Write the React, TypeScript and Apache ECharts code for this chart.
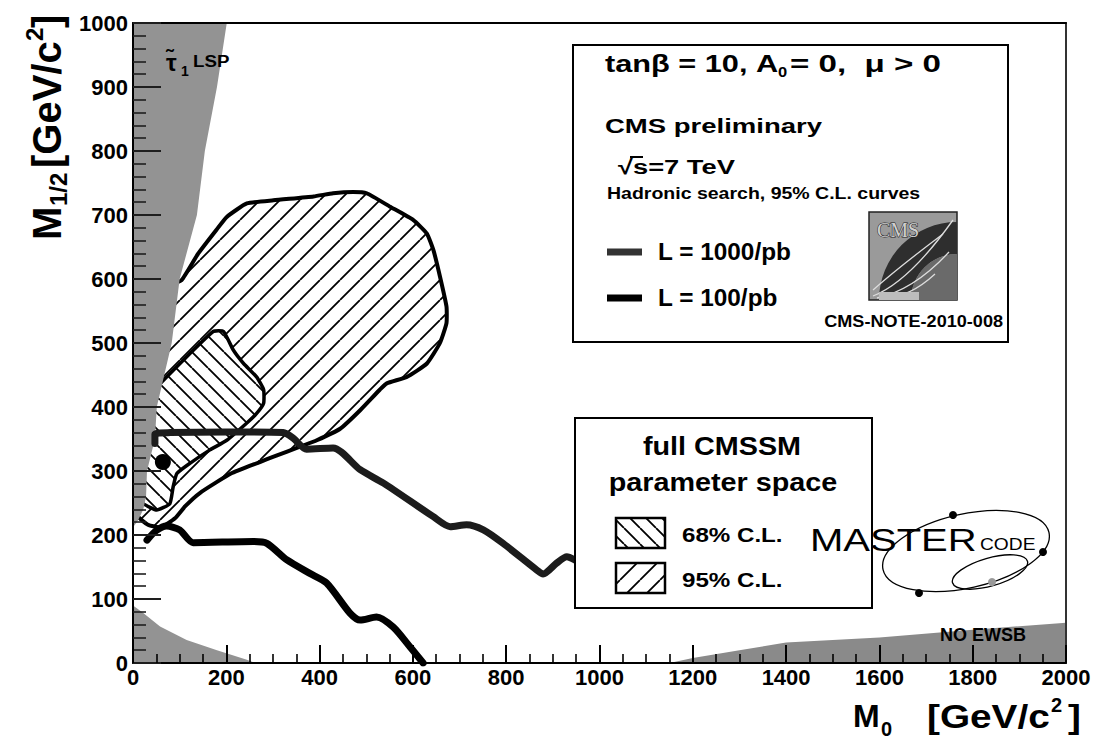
import React, { useEffect, useRef } from "react";
import * as echarts from "echarts";

// ---- data (GeV/c^2) ----
const xTicks = [0, 200, 400, 600, 800, 1000, 1200, 1400, 1600, 1800, 2000];
const yTicks = [0, 100, 200, 300, 400, 500, 600, 700, 800, 900, 1000];
const xMinorPerMajor = 4;
const yMinorPerMajor = 5;

const stauLSPRegion = [[0, 1000], [201, 1000], [180, 900], [154, 800], [137, 700], [100, 600], [83, 500], [51, 400], [47, 350], [30, 300], [28, 260], [22, 240], [10, 222], [0, 212]];
const lowLeftRegion = [[0, 90], [22, 78], [58, 57], [115, 36], [180, 20], [244, 5], [262, 0], [0, 0]];
const noEwsbRegion = [[1150, 0], [1200, 8], [1300, 20], [1400, 32], [1600, 40], [1800, 52], [2000, 63], [2000, 0]];

const contour95 = [[80, 590], [104, 598], [140, 640], [179, 677], [201, 697], [244, 718], [301, 723], [387, 729], [429, 734], [472, 736], [501, 734], [551, 713], [601, 692], [630, 671], [644, 645], [658, 604], [672, 557], [672, 531], [658, 500], [630, 468], [587, 447], [544, 437], [529, 427], [487, 395], [444, 366], [394, 348], [358, 338], [300, 322], [272, 314], [210, 296], [144, 266], [112, 245], [90, 226], [60, 212], [32, 216], [10, 230], [5, 300], [20, 400], [40, 500]];
const contour68 = [[50, 430], [72, 447], [120, 482], [172, 518], [194, 518], [215, 489], [237, 468], [265, 447], [280, 427], [280, 406], [265, 390], [244, 375], [201, 348], [165, 333], [122, 312], [94, 296], [86, 275], [79, 249], [51, 239], [22, 249], [10, 260], [20, 400]];

const lumi1000 = [[47, 343], [47, 358], [80, 360], [200, 361], [322, 360], [344, 351], [372, 334], [429, 336], [487, 302], [537, 281], [643, 229], [680, 213], [715, 216], [751, 208], [793, 187], [866, 145], [879, 139], [908, 156], [930, 166], [950, 160], [975, 150]];
const lumi100 = [[30, 192], [50, 207], [72, 214], [100, 208], [129, 188], [258, 190], [287, 187], [330, 161], [379, 140], [415, 125], [465, 78], [487, 67], [522, 72], [558, 56], [594, 25], [622, 0]];
const bestFit = [[64, 314]];

const FONT = '"Liberation Sans", Arial, Helvetica, sans-serif';

function makeHatch(size: number, dir: number, lw: number) {
  const c = document.createElement("canvas");
  c.width = size;
  c.height = size;
  const g = c.getContext("2d")!;
  g.fillStyle = "#fff";
  g.fillRect(0, 0, size, size);
  g.strokeStyle = "#000";
  g.lineWidth = lw;
  g.beginPath();
  for (const o of [-size, 0, size]) {
    if (dir === 1) {
      g.moveTo(o, size);
      g.lineTo(o + size, 0);
    } else {
      g.moveTo(o, 0);
      g.lineTo(o + size, size);
    }
  }
  g.stroke();
  return { image: c, repeat: "repeat", imageWidth: size, imageHeight: size };
}

function polySeries(name: string, pts: number[][], style: any, z: number, smooth = 0) {
  return {
    type: "custom",
    name,
    z,
    silent: true,
    data: [[0, 0]],
    renderItem: (_p: any, api: any) => ({
      type: "polygon",
      shape: { points: pts.map((p) => api.coord(p)), smooth },
      style,
    }),
  };
}

function txt(text: string, x: number, y: number, size: number, o: any = {}) {
  return {
    type: "text",
    x,
    y,
    z: 100,
    scaleX: o.sx || 1,
    rotation: o.rot || 0,
    style: {
      text,
      fontSize: size,
      fontWeight: o.weight || "bold",
      fontFamily: o.family || FONT,
      fill: o.fill || "#000",
      stroke: o.stroke,
      lineWidth: o.lw,
      align: o.align || "left",
      verticalAlign: "middle",
    },
  };
}

export default function App() {
  const ref = useRef<HTMLDivElement>(null);
  useEffect(() => {
    const chart = echarts.init(ref.current!, undefined, { renderer: "svg" });
    const hatch95 = makeHatch(20, 1, 1.8);
    const hatch68 = makeHatch(16, -1, 1.8);
    const gray = "#939393";
    const tickColorX = "#000";
    const tickColorY = "#1e1e1e";

    const labelStyle = {
      fontSize: 22, fontWeight: "bold", fontFamily: FONT, color: "#000",
      formatter: (v: number) => String(v),
    };

    const graphic: any[] = [
      {
        type: "group", x: 47, y: 240, rotation: Math.PI / 2, z: 100,
        children: [
          txt("M", 0, 0, 40),
          txt("1/2", 34, 11, 24),
          txt("[GeV/c", 72, 0, 40),
          txt("2", 199, -13, 24),
          txt("]", 212, 0, 40),
        ],
      },
      txt("M", 853, 716, 32),
      txt("0", 881, 729, 20),
      txt("[GeV/c", 927, 716, 34, { sx: 1.14 }),
      txt("2", 1051, 705, 20),
      txt("]", 1068, 716, 34, { sx: 1.14 }),
      txt("τ̃", 166, 62, 24),
      txt("1", 181, 71, 14),
      txt("LSP", 193, 61, 17, { sx: 1.1 }),
      { type: "rect", z: 99, shape: { x: 573, y: 45, width: 435, height: 297 }, style: { fill: "#fff", stroke: "#000", lineWidth: 2 } },
      txt("tanβ = 10, A", 605, 64, 24, { sx: 1.28 }),
      txt("0", 778, 72, 15, { sx: 1.1 }),
      txt("= 0,  μ > 0", 790, 64, 24, { sx: 1.38 }),
      txt("CMS preliminary", 605, 126, 21, { sx: 1.31 }),
      txt("√s=7 TeV", 618, 167, 21, { sx: 1.3 }),
      { type: "line", z: 100, shape: { x1: 630, y1: 157, x2: 643, y2: 157 }, style: { stroke: "#000", lineWidth: 2 } },
      txt("Hadronic search, 95% C.L. curves", 607, 194, 16, { sx: 1.22 }),
      { type: "line", z: 100, shape: { x1: 607, y1: 252, x2: 642, y2: 252 }, style: { stroke: "#333", lineWidth: 7 } },
      txt("L = 1000/pb", 658, 252, 23, { sx: 1.06 }),
      { type: "line", z: 100, shape: { x1: 607, y1: 298, x2: 642, y2: 298 }, style: { stroke: "#000", lineWidth: 7 } },
      txt("L = 100/pb", 658, 298, 23, { sx: 1.06 }),
      {
        type: "group", x: 869, y: 212, z: 100,
        children: [
          { type: "rect", z: 100, shape: { x: 0, y: 0, width: 88, height: 88 }, style: { fill: "#9a9a9a", stroke: "#222", lineWidth: 1.5 } },
          { type: "sector", z: 100, shape: { cx: 88, cy: 88, r0: 46, r: 78, startAngle: Math.PI, endAngle: Math.PI * 1.5 }, style: { fill: "#2e2e2e" } },
          { type: "sector", z: 100, shape: { cx: 88, cy: 88, r0: 0, r: 46, startAngle: Math.PI, endAngle: Math.PI * 1.5 }, style: { fill: "#6a6a6a" } },
          { type: "bezierCurve", z: 101, shape: { x1: 4, y1: 84, x2: 84, y2: 8, cpx1: 40, cpy1: 70 }, style: { stroke: "#ddd", lineWidth: 1.3, fill: null } },
          { type: "bezierCurve", z: 101, shape: { x1: 4, y1: 78, x2: 74, y2: 22, cpx1: 30, cpy1: 55 }, style: { stroke: "#ddd", lineWidth: 1.3, fill: null } },
          { type: "bezierCurve", z: 101, shape: { x1: 8, y1: 86, x2: 80, y2: 40, cpx1: 45, cpy1: 78 }, style: { stroke: "#ddd", lineWidth: 1.3, fill: null } },
          { type: "bezierCurve", z: 101, shape: { x1: 14, y1: 86, x2: 66, y2: 62, cpx1: 40, cpy1: 86 }, style: { stroke: "#ddd", lineWidth: 1.3, fill: null } },
          { type: "text", z: 101, x: 8, y: 18, style: { text: "CMS", fontSize: 20, fontFamily: "serif", fill: "#cfcfcf", stroke: "#222", lineWidth: 1, verticalAlign: "middle" } },
          { type: "rect", z: 101, shape: { x: 10, y: 80, width: 40, height: 8 }, style: { fill: "#bdbdbd" } },
        ],
      },
      txt("CMS-NOTE-2010-008", 1003, 322, 16, { sx: 1.13, align: "right" }),
      { type: "rect", z: 99, shape: { x: 575, y: 418, width: 297, height: 190 }, style: { fill: "#fff", stroke: "#000", lineWidth: 2 } },
      txt("full CMSSM", 722, 447, 25, { sx: 1.15, align: "center" }),
      txt("parameter space", 723, 483, 25, { sx: 1.15, align: "center" }),
      { type: "rect", z: 100, shape: { x: 616, y: 518, width: 49, height: 30 }, style: { fill: hatch68, stroke: "#000", lineWidth: 2.5 } },
      txt("68% C.L.", 682, 535, 21, { sx: 1.15 }),
      { type: "rect", z: 100, shape: { x: 616, y: 563, width: 49, height: 30 }, style: { fill: hatch95, stroke: "#000", lineWidth: 2.5 } },
      txt("95% C.L.", 682, 580, 21, { sx: 1.15 }),
      txt("MASTER", 810, 540, 32, { sx: 1.25, weight: "normal" }),
      txt("CODE", 980, 545, 16, { sx: 1.2, weight: "normal" }),
      { type: "ellipse", z: 100, x: 966, y: 551, rotation: 0.22, shape: { cx: 0, cy: 0, rx: 85, ry: 37 }, style: { fill: null, stroke: "#000", lineWidth: 1.3 } },
      { type: "ellipse", z: 100, x: 990, y: 572, rotation: 0.28, shape: { cx: 0, cy: 0, rx: 39, ry: 14 }, style: { fill: null, stroke: "#000", lineWidth: 1.3 } },
      { type: "circle", z: 101, shape: { cx: 953, cy: 515, r: 4 }, style: { fill: "#000" } },
      { type: "circle", z: 101, shape: { cx: 1043, cy: 552, r: 4 }, style: { fill: "#000" } },
      { type: "circle", z: 101, shape: { cx: 919, cy: 593, r: 4 }, style: { fill: "#000" } },
      { type: "circle", z: 101, shape: { cx: 992, cy: 582, r: 4 }, style: { fill: "#999" } },
      txt("NO EWSB", 983, 635, 18, { align: "center" }),
    ];

    const option: any = {
      animation: false,
      backgroundColor: "#fff",
      grid: { left: 133, right: 35, top: 23, bottom: 83 },
      xAxis: [
        {
          type: "value", min: xTicks[0], max: xTicks[xTicks.length - 1], interval: xTicks[1] - xTicks[0],
          position: "bottom", z: 10,
          axisLine: { show: true, onZero: false, lineStyle: { color: "#000", width: 2 } },
          axisTick: { show: true, inside: true, length: 18, lineStyle: { color: tickColorX, width: 2 } },
          minorTick: { show: true, splitNumber: xMinorPerMajor, length: 9, lineStyle: { color: tickColorX, width: 1.6 } },
          axisLabel: { ...labelStyle, margin: 3 },
          splitLine: { show: false },
          minorSplitLine: { show: false },
        },
        {
          type: "value", min: 0, max: 2000, position: "top", z: 10,
          axisLine: { show: true, onZero: false, lineStyle: { color: "#000", width: 2 } },
          axisTick: { show: false }, axisLabel: { show: false }, splitLine: { show: false },
        },
      ],
      yAxis: [
        {
          type: "value", min: yTicks[0], max: yTicks[yTicks.length - 1], interval: yTicks[1] - yTicks[0],
          position: "left", z: 10,
          axisLine: { show: true, onZero: false, lineStyle: { color: "#000", width: 2 } },
          axisTick: { show: true, inside: true, length: 28, lineStyle: { color: tickColorY, width: 2 } },
          minorTick: { show: true, splitNumber: yMinorPerMajor, length: 13, lineStyle: { color: tickColorY, width: 1.6 } },
          axisLabel: { ...labelStyle, margin: 5 },
          splitLine: { show: false },
          minorSplitLine: { show: false },
        },
        {
          type: "value", min: 0, max: 1000, position: "right", z: 10,
          axisLine: { show: true, onZero: false, lineStyle: { color: "#333", width: 2 } },
          axisTick: { show: false }, axisLabel: { show: false }, splitLine: { show: false },
        },
      ],
      series: [
        polySeries("95% C.L.", contour95, { fill: hatch95, stroke: "#000", lineWidth: 4, lineJoin: "round" }, 2, 0.15),
        polySeries("68% C.L.", contour68, { fill: hatch68, stroke: "#000", lineWidth: 3.5, lineJoin: "round" }, 3, 0.15),
        polySeries("stau LSP", stauLSPRegion, { fill: gray }, 4),
        polySeries("low corner", lowLeftRegion, { fill: gray }, 4, 0),
        polySeries("NO EWSB", noEwsbRegion, { fill: "#8a8a8a" }, 4),
        {
          type: "line", name: "L = 1000/pb", data: lumi1000, z: 5, smooth: 0.25, showSymbol: false, symbol: "none",
          lineStyle: { color: "#1c1c1c", width: 7, cap: "round", join: "round" },
        },
        {
          type: "line", name: "L = 100/pb", data: lumi100, z: 5, smooth: 0.25, showSymbol: false, symbol: "none",
          lineStyle: { color: "#000", width: 7, cap: "round", join: "round" },
        },
        { type: "scatter", name: "best fit", data: bestFit, z: 6, symbolSize: 16, itemStyle: { color: "#000", opacity: 1 } },
      ],
      graphic,
    };
    chart.setOption(option);
    return () => chart.dispose();
  }, []);
  return <div ref={ref} style={{ position: "fixed", left: 0, top: 0, width: 1101, height: 746 }} />;
}
